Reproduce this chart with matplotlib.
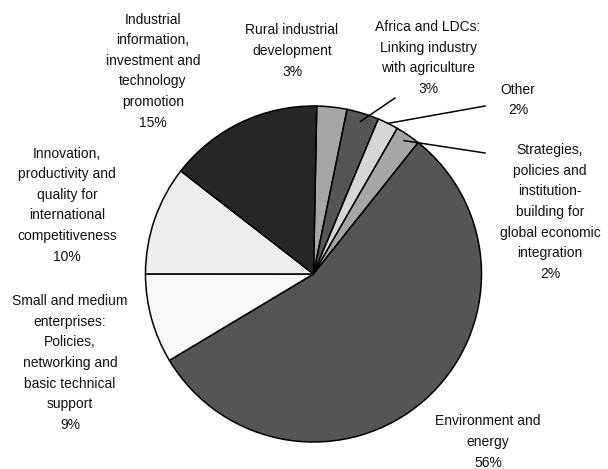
import numpy as np
from matplotlib import pyplot as plt

labels = ['Rural industrial\ndevelopment\n3%',
          'Africa and LDCs:\nLinking industry\nwith agriculture\n3%',
          'Other\n2%',
          'Strategies,\npolicies and\ninstitution-\nbuilding for\nglobal economic\nintegration\n2%',
          'Environment and\nenergy\n56%',
          'Small and medium\nenterprises:\nPolicies,\nnetworking and\nbasic technical\nsupport\n9%',
          'Innovation,\nproductivity and\nquality for\ninternational\ncompetitiveness\n10%',
          'Industrial\ninformation,\ninvestment and\ntechnology\npromotion\n15%']
shares = [2.9, 3.1, 2.0, 2.4, 55.7, 8.6, 10.5, 14.8]
colors = ['#a6a6a6', '#555555', '#d6d6d6', '#a6a6a6', '#555555', '#f8f8f8', '#eeeeee', '#262626']

# label centres (pixel coords, y from top) and which ones get a leader line
label_pos = [(292, 51), (428, 58), (518, 100), (550, 212), (488, 442),
             (70, 363), (67, 205), (153, 71)]
leaders = {1: ((395, 98), 0.95), 2: ((485, 106), 1.0), 3: ((485, 153), 0.96)}

W, H = 608, 469
cx, cy, R = 313.5, 274, 168

plt.rcParams['font.family'] = ['Liberation Sans', 'DejaVu Sans']
fig = plt.figure(figsize=(W / 100, H / 100), dpi=100)
ax = fig.add_axes([0, 0, 1, 1])

wedges, _ = ax.pie(shares, colors=colors, startangle=88.9, counterclock=False,
                   center=(cx, H - cy), radius=R, frame=True,
                   wedgeprops=dict(edgecolor='black', linewidth=1.1))
ax.set_xlim(0, W)
ax.set_ylim(0, H)
ax.axis('off')

for i, (w, lab) in enumerate(zip(wedges, labels)):
    x, y = label_pos[i]
    ax.text(x, H - y, lab, ha='center', va='center', fontsize=10,
            linespacing=1.6, color='#111111')
    if i in leaders:
        (ex, ey), rf = leaders[i]
        ang = np.deg2rad((w.theta1 + w.theta2) / 2)
        px = cx + rf * R * np.cos(ang)
        py = (H - cy) + rf * R * np.sin(ang)
        ax.plot([px, ex], [py, H - ey], color='black', lw=1.1)

fig.savefig('out.png', dpi=100)
